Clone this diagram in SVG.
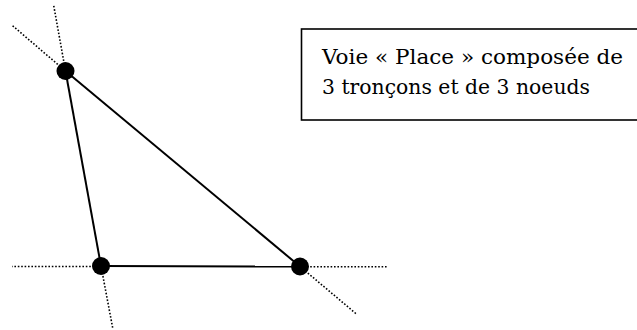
<svg xmlns="http://www.w3.org/2000/svg" width="637" height="330" viewBox="0 0 637 330">
<style>
.edge{stroke:#000;stroke-width:2;fill:none}
.ext{stroke:#000;stroke-width:1.6;stroke-dasharray:1.6 1.8;fill:none}
.node{fill:#000}
.lbl{font-family:'DejaVu Serif',serif;font-size:21px;fill:#000}
</style>
<rect width="637" height="330" fill="#fff"/>
<g id="connectors">
<line class="edge" x1="65.5" y1="71" x2="101" y2="266"/>
<line class="edge" x1="65.5" y1="71" x2="300" y2="266.5"/>
<line class="edge" x1="101" y1="266" x2="300" y2="266.5"/>
<line class="ext" x1="65.5" y1="71" x2="53.7" y2="5.5"/>
<line class="ext" x1="65.5" y1="71" x2="12.3" y2="25.5"/>
<line class="ext" x1="101" y1="266.5" x2="12" y2="266.5"/>
<line class="ext" x1="101" y1="266" x2="112.7" y2="328"/>
<line class="ext" x1="300" y1="266.8" x2="388" y2="266.8"/>
<line class="ext" x1="300" y1="266.5" x2="357" y2="314.5"/>
</g>
<g id="node-top"><circle class="node" cx="65.5" cy="71" r="9"/></g>
<g id="node-bottom-left"><circle class="node" cx="101" cy="266" r="9"/></g>
<g id="node-bottom-right"><circle class="node" cx="300" cy="266.5" r="9"/></g>
<g id="label">
<rect x="301.5" y="29" width="400" height="91" fill="none" stroke="#000" stroke-width="1.6"/>
<text class="lbl" x="322" y="64" textLength="301" lengthAdjust="spacingAndGlyphs">Voie « Place » composée de</text>
<text class="lbl" x="322" y="94" textLength="268" lengthAdjust="spacingAndGlyphs">3 tronçons et de 3 noeuds</text>
</g>
</svg>
